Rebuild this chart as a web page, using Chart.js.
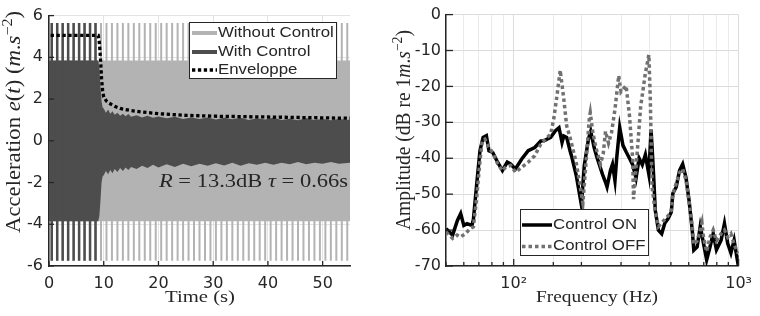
<!DOCTYPE html>
<html>
<head>
<meta charset="utf-8">
<script src="https://cdn.jsdelivr.net/npm/chart.js@4.4.1/dist/chart.umd.min.js"></script>
<style>
  body { margin: 0; background: #fff; }
  #wrap { position: relative; width: 760px; height: 316px; }
  .panel { position: absolute; top: 0; width: 380px; height: 316px; }
</style>
</head>
<body>
<div id="wrap">
  <div class="panel" style="left:0"><canvas id="timeChart" width="380" height="316"></canvas></div>
  <div class="panel" style="left:380px"><canvas id="freqChart" width="380" height="316"></canvas></div>
</div>
<script>
// ---- left panel: time signal ----
const spikeTimes = [0.5, 1.5, 2.5, 3.5, 4.5, 5.5, 6.5, 7.5, 8.5, 9.5, 10.5, 11.5, 12.5, 13.5,
  14.5, 15.5, 16.5, 17.5, 18.5, 19.5, 20.5, 21.5, 22.5, 23.5, 24.5, 25.5, 26.5, 27.5, 28.5,
  29.5, 30.5, 31.5, 32.5, 33.5, 34.5, 35.5, 36.5, 37.5, 38.5, 39.5, 40.5, 41.5, 42.5, 43.5,
  44.5, 45.5, 46.5, 47.5, 48.5, 49.5, 50.5, 51.5, 52.5, 53.5, 54.5];
const controlStart = 9;
const spikeLow = -5.75;
const spikeHigh = 5.65;

const bandTime = [0, 55];
const bandUpper = [3.85, 3.85];
const bandLower = [-3.85, -3.85];

const darkTime = [0, 9.0, 9.2, 9.4, 9.6, 9.8, 10, 10.4, 10.8, 11.2, 11.6, 12, 12.5, 13, 13.5,
  14, 14.5, 15, 16, 17, 18, 19, 20, 21.5, 23, 24.5, 26, 27.5, 29, 30.5, 32, 33.5, 35, 36.5, 38,
  39.5, 41, 42.5, 44, 45.5, 47, 48.5, 50, 51.5, 53, 55];
const darkUpper = [3.85, 3.85, 3.5, 2.6, 1.9, 1.6, 1.55, 1.35, 1.5, 1.3, 1.42, 1.25, 1.35, 1.2,
  1.3, 1.18, 1.28, 1.15, 1.22, 1.12, 1.2, 1.1, 1.16, 1.08, 1.15, 1.05, 1.12, 1.04, 1.12, 1.02,
  1.1, 1.03, 1.1, 1.0, 1.08, 1.02, 1.1, 1.0, 1.06, 0.98, 1.08, 1.0, 1.05, 0.98, 1.05, 1.0];
const darkLower = [-3.85, -3.85, -3.6, -2.9, -2.0, -1.7, -1.65, -1.45, -1.6, -1.4, -1.55, -1.35,
  -1.5, -1.3, -1.45, -1.28, -1.4, -1.25, -1.35, -1.2, -1.3, -1.15, -1.28, -1.12, -1.25, -1.1,
  -1.22, -1.1, -1.2, -1.08, -1.18, -1.05, -1.2, -1.08, -1.15, -1.05, -1.15, -1.05, -1.12, -1.02,
  -1.12, -1.05, -1.1, -1.02, -1.1, -1.05];

const envTime = [0.3, 9, 9.2, 9.4, 9.6, 9.8, 10, 10.5, 11, 12, 13, 14, 15, 17, 20, 25, 30, 35,
  40, 45, 50, 55];
const envValue = [5.05, 5.05, 4.7, 4.0, 3.0, 2.4, 2.1, 1.9, 1.8, 1.65, 1.55, 1.5, 1.45, 1.38,
  1.3, 1.22, 1.18, 1.16, 1.14, 1.12, 1.1, 1.08];

const timeTicks = [0, 10, 20, 30, 40, 50];

// ---- right panel: spectra ----
const freqOn = [50.1, 53.5, 56.2, 58.1, 60, 62, 65.2, 66.2, 68.5, 70.8, 73.1, 75.6, 77.6, 80.7,
  84.8, 89.1, 93.6, 96.8, 101.7, 108.6, 116, 124, 132, 137, 146, 153, 159, 164, 167, 172, 178,
  181, 190, 200, 206, 215, 220, 228, 235, 248, 256, 260, 269, 275, 282, 287, 296, 306, 316, 327,
  338, 350, 361, 373, 385, 399, 408, 414, 419, 426, 440, 455, 470, 486, 502, 510, 528, 546, 564,
  583, 602, 622, 632, 654, 675, 698, 721, 746, 771, 797, 836, 865, 894, 924, 955, 987, 1000];
const ampOn = [-59.6, -61.4, -57.3, -55.4, -58.7, -58.2, -58.7, -57, -47.1, -37.9, -34.2, -33.7,
  -37.9, -38.4, -41.1, -43.4, -41.1, -41.6, -43, -40.2, -37.9, -37, -35.2, -35.1, -34.2, -32.4,
  -31.5, -35.6, -33.8, -34.2, -37.9, -39.5, -45, -53, -42, -34.6, -32.5, -37.1, -39.9, -44.4,
  -46.7, -48, -43.5, -41.7, -46.3, -40, -31.4, -36.4, -38.2, -40, -41.8, -45.5, -40, -41.8, -39,
  -44.5, -32, -39, -45, -54.5, -60, -61, -58, -56.8, -55, -49.8, -48, -43.4, -41.6, -45.3, -51.7,
  -60, -65.6, -64.7, -59, -63.7, -68.3, -64.7, -61, -65.5, -62.8, -58.2, -63.7, -66.4, -62.8,
  -68.3, -67];

const freqOff = [50.1, 53.5, 56, 58, 61, 64, 66.2, 68.5, 70.8, 72.5, 74.5, 77.6, 80.7, 84.8,
  89.1, 92, 96.8, 102, 108.6, 116, 124, 132, 141, 146, 151, 156, 161, 167, 172, 178, 181, 190,
  203, 210, 217, 219, 225, 232, 243, 250, 256, 264, 272, 282, 293, 300, 316, 327, 338, 341, 355,
  367, 385, 399, 405, 412, 426, 440, 455, 470, 486, 502, 510, 528, 546, 564, 583, 602, 622, 632,
  654, 675, 687, 698, 721, 746, 771, 797, 836, 865, 894, 924, 955, 987, 1000];
const ampOff = [-60.5, -62.3, -61.4, -61.9, -61, -59.6, -59.1, -50.8, -40.7, -35.1, -34.7, -37,
  -38.5, -41.5, -43.5, -42.5, -42, -43.9, -42.5, -41.1, -39.3, -36, -34.2, -33.3, -28.7, -22.2,
  -15.5, -23.5, -31, -34.2, -36, -41.5, -52.5, -40.7, -28.7, -27.3, -33, -37, -41.6, -38.8,
  -32.5, -35.8, -33, -26.4, -17, -21.5, -19.8, -28, -40, -51.4, -37.5, -25.5, -16.3, -11.2,
  -23.7, -47.8, -55, -59, -58, -57, -56, -54.5, -50, -47, -44, -43, -46, -52, -59, -64, -63,
  -60, -58, -62, -66, -62, -60, -63, -61, -60, -62, -61, -64, -66, -66.5];

const ampTicks = [0, -10, -20, -30, -40, -50, -60, -70];

// ---- styles ----
const textColor = '#262626';
const lightGray = '#b3b3b3';
const darkGray = '#4d4d4d';
const offGray = '#717171';
const gridColor = '#e3e3e3';
const tickFont = { family: 'DejaVu Sans', size: 16 };
const serif = '"Liberation Serif"';
const sans = '"Liberation Sans"';

function zip(xs, ys) {
  return xs.map((x, i) => ({ x: x, y: ys[i] }));
}

function spikePoints(times, lo, hi) {
  const pts = [];
  times.forEach(t => {
    pts.push({ x: t, y: lo }, { x: t, y: hi }, { x: t, y: null });
  });
  return pts;
}

// text made of runs (roman / italic / superscript), stretched to a given length
function drawText(ctx, runs, cx, cy, opt) {
  ctx.save();
  let w = 0;
  runs.forEach(r => { ctx.font = r.font; r.w = ctx.measureText(r.text).width; w += r.w; });
  ctx.translate(cx, cy);
  if (opt.vertical) ctx.rotate(-Math.PI / 2);
  const along = opt.length ? opt.length / w : (opt.sx || 1);
  ctx.scale(along, opt.perp || 1);
  ctx.fillStyle = textColor;
  ctx.textBaseline = 'middle';
  ctx.textAlign = 'left';
  let x = opt.align === 'left' ? 0 : -w / 2;
  runs.forEach(r => { ctx.font = r.font; ctx.fillText(r.text, x, r.dy || 0); x += r.w; });
  ctx.restore();
}

function drawInwardTicks(chart, majorLen, minorLen) {
  const { ctx, chartArea: a, scales } = chart;
  ctx.save();
  ctx.strokeStyle = textColor;
  ctx.lineWidth = 1.3;
  scales.x.ticks.forEach(t => {
    const px = scales.x.getPixelForValue(t.value);
    const isMajor = scales.x.type !== 'logarithmic' || Math.abs(Math.log10(t.value) % 1) < 1e-9;
    ctx.beginPath();
    ctx.moveTo(px, a.bottom);
    ctx.lineTo(px, a.bottom - (isMajor ? majorLen : minorLen));
    ctx.stroke();
  });
  scales.y.ticks.forEach(t => {
    const py = scales.y.getPixelForValue(t.value);
    ctx.beginPath();
    ctx.moveTo(a.left, py);
    ctx.lineTo(a.left + majorLen, py);
    ctx.stroke();
  });
  ctx.restore();
}

function drawLegend(ctx, box, items) {
  ctx.save();
  ctx.fillStyle = '#fff';
  ctx.fillRect(box.x, box.y, box.w, box.h);
  ctx.strokeStyle = textColor;
  ctx.lineWidth = 1;
  ctx.strokeRect(box.x + 0.5, box.y + 0.5, box.w - 1, box.h - 1);
  items.forEach(it => {
    ctx.beginPath();
    ctx.setLineDash(it.dash || []);
    ctx.lineCap = 'butt';
    ctx.lineWidth = it.width;
    ctx.strokeStyle = it.color;
    ctx.moveTo(box.x + box.sample[0], it.y);
    ctx.lineTo(box.x + box.sample[1], it.y);
    ctx.stroke();
    ctx.setLineDash([]);
    drawText(ctx, [{ text: it.label, font: '14px ' + sans }], box.x + box.textX, it.y,
      { align: 'left', sx: 1.2 });
  });
  ctx.restore();
}

function axisScale(opts) {
  return Object.assign({
    ticks: { color: textColor, font: tickFont, maxRotation: 0, autoSkip: false },
    grid: { color: gridColor, drawTicks: false, lineWidth: 1 },
    border: { color: textColor, width: 1.5 }
  }, opts);
}

// ---- left chart ----
const timeDecor = {
  id: 'timeDecor',
  afterDraw(chart) {
    const ctx = chart.ctx;
    drawInwardTicks(chart, 5, 5);
    drawLegend(ctx, { x: 189, y: 22, w: 148, h: 57, sample: [3, 28], textX: 29 }, [
      { label: 'Without Control', color: lightGray, width: 4, y: 33 },
      { label: 'With Control', color: darkGray, width: 4, y: 52 },
      { label: 'Enveloppe', color: '#000', width: 3.3, dash: [3.3, 2.6], y: 70 }
    ]);
    drawText(ctx, [
      { text: 'R', font: 'italic 18px ' + serif },
      { text: ' = 13.3dB ', font: '18px ' + serif },
      { text: '\u03c4', font: 'italic 18px ' + serif },
      { text: ' = 0.66s', font: '18px ' + serif }
    ], 253.5, 182, { length: 189 });
    drawText(ctx, [{ text: 'Time (s)', font: '17px ' + serif }], 200, 298, { length: 70 });
    drawText(ctx, [
      { text: 'Acceleration ', font: '17px ' + serif },
      { text: 'e', font: 'italic 17px ' + serif },
      { text: '(', font: '17px ' + serif },
      { text: 't', font: 'italic 17px ' + serif },
      { text: ') (', font: '17px ' + serif },
      { text: 'm', font: 'italic 17px ' + serif },
      { text: '.', font: '17px ' + serif },
      { text: 's', font: 'italic 17px ' + serif },
      { text: '\u22122', font: '12px ' + serif, dy: -6 },
      { text: ')', font: '17px ' + serif }
    ], 15, 122, { vertical: true, length: 222, perp: 1.2 });
  }
};

new Chart(document.getElementById('timeChart'), {
  type: 'line',
  data: {
    datasets: [
      { label: 'Enveloppe', data: zip(envTime, envValue), borderColor: '#000', borderWidth: 3.3,
        borderDash: [3.3, 2.6], pointRadius: 0, fill: false, order: 0 },
      { label: 'With Control spikes',
        data: spikePoints(spikeTimes.filter(t => t < controlStart), spikeLow, spikeHigh),
        borderColor: darkGray, borderWidth: 2.5, pointRadius: 0, fill: false, order: 1 },
      { label: 'With Control', data: zip(darkTime, darkUpper), borderColor: 'rgba(0,0,0,0)',
        borderWidth: 0, backgroundColor: darkGray, pointRadius: 0, fill: '+1', order: 2 },
      { label: 'With Control lower', data: zip(darkTime, darkLower), borderColor: 'rgba(0,0,0,0)',
        borderWidth: 0, pointRadius: 0, fill: false, order: 3 },
      { label: 'Without Control spikes', data: spikePoints(spikeTimes, spikeLow, spikeHigh),
        borderColor: lightGray, borderWidth: 2, pointRadius: 0, fill: false, order: 4 },
      { label: 'Without Control', data: zip(bandTime, bandUpper), borderColor: 'rgba(0,0,0,0)',
        borderWidth: 0, backgroundColor: lightGray, pointRadius: 0, fill: '+1', order: 5 },
      { label: 'Without Control lower', data: zip(bandTime, bandLower),
        borderColor: 'rgba(0,0,0,0)', borderWidth: 0, pointRadius: 0, fill: false, order: 6 }
    ]
  },
  options: {
    responsive: false,
    animation: false,
    layout: { padding: { left: 0, right: 30, top: 13, bottom: 0 } },
    plugins: { legend: { display: false }, tooltip: { enabled: false } },
    scales: {
      x: axisScale({
        type: 'linear', min: 0, max: 55,
        afterBuildTicks: s => { s.ticks = timeTicks.map(v => ({ value: v })); },
        ticks: { color: textColor, font: tickFont, maxRotation: 0, autoSkip: false, padding: 8 },
        afterFit: s => { s.height = 50; }
      }),
      y: axisScale({
        min: -6, max: 6,
        ticks: { color: textColor, font: tickFont, stepSize: 2, padding: 6 },
        afterFit: s => { s.width = 49; }
      })
    }
  },
  plugins: [timeDecor]
});

// ---- right chart ----
const freqDecor = {
  id: 'freqDecor',
  afterDraw(chart) {
    const ctx = chart.ctx;
    drawInwardTicks(chart, 7, 4);
    drawLegend(ctx, { x: 140, y: 209, w: 129, h: 47, sample: [2, 32], textX: 33 }, [
      { label: 'Control ON', color: '#000', width: 3.5, y: 225 },
      { label: 'Control OFF', color: offGray, width: 3.5, dash: [3.5, 3], y: 246.5 }
    ]);
    drawText(ctx, [{ text: 'Frequency (Hz)', font: '17px ' + serif }], 217, 298, { length: 122 });
    drawText(ctx, [
      { text: 'Amplitude (dB re 1', font: '17px ' + serif },
      { text: 'm', font: 'italic 17px ' + serif },
      { text: '.', font: '17px ' + serif },
      { text: 's', font: 'italic 17px ' + serif },
      { text: '\u22122', font: '12px ' + serif, dy: -6 },
      { text: ')', font: '17px ' + serif }
    ], 25, 130, { vertical: true, length: 200, perp: 1.2 });
  }
};

new Chart(document.getElementById('freqChart'), {
  type: 'line',
  data: {
    datasets: [
      { label: 'Control OFF', data: zip(freqOff, ampOff), borderColor: offGray, borderWidth: 3.5,
        borderDash: [3.5, 3], pointRadius: 0, fill: false, order: 0 },
      { label: 'Control ON', data: zip(freqOn, ampOn), borderColor: '#000', borderWidth: 3.5,
        pointRadius: 0, fill: false, order: 1 }
    ]
  },
  options: {
    responsive: false,
    animation: false,
    layout: { padding: { left: 0, right: 12, top: 13, bottom: 0 } },
    plugins: { legend: { display: false }, tooltip: { enabled: false } },
    scales: {
      x: axisScale({
        type: 'logarithmic', min: 50, max: 1000,
        ticks: {
          color: textColor, font: tickFont, maxRotation: 0, autoSkip: false, padding: 8,
          callback: v => (v === 100 ? '10\u00b2' : v === 1000 ? '10\u00b3' : '')
        },
        grid: {
          drawTicks: false,
          color: c => {
            const v = c.tick ? c.tick.value : 0;
            return Math.abs(Math.log10(v) % 1) < 1e-9 ? '#dcdcdc' : '#ebebeb';
          }
        },
        afterFit: s => { s.height = 50; }
      }),
      y: axisScale({
        min: -70, max: 0,
        afterBuildTicks: s => { s.ticks = ampTicks.map(v => ({ value: v })); },
        ticks: { color: textColor, font: tickFont, padding: 5 },
        grid: { color: '#dcdcdc', drawTicks: false },
        afterFit: s => { s.width = 66; }
      })
    }
  },
  plugins: [freqDecor]
});
</script>
</body>
</html>
